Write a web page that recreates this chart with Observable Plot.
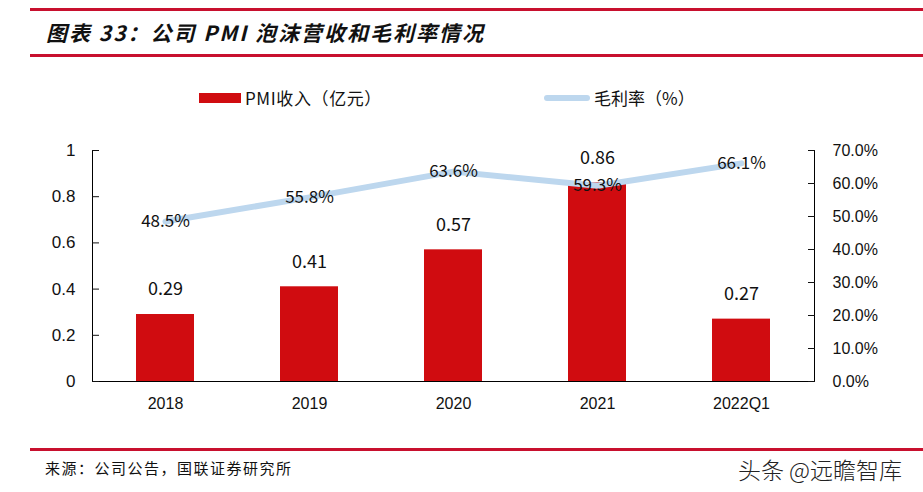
<!DOCTYPE html>
<html><head><meta charset="utf-8">
<script src="https://cdn.jsdelivr.net/npm/d3@7"></script>
<script src="https://cdn.jsdelivr.net/npm/@observablehq/plot@0.6"></script>
<style>
body{margin:0;background:#fff;}
#wrap{position:relative;width:923px;height:492px;overflow:hidden;font-family:"Noto Sans CJK SC",sans-serif;}
.abs{position:absolute;white-space:nowrap;}
.redline{position:absolute;left:30px;right:0;height:3px;background:#c8102e;}
</style></head>
<body><div id="wrap">
<div class="redline" style="top:8px"></div>
<div class="abs" style="left:46px;top:17px;font-size:21px;font-weight:bold;font-style:italic;color:#111;letter-spacing:2px">图表 33：公司 PMI 泡沫营收和毛利率情况</div>
<div class="redline" style="top:54px"></div>
<div class="abs" style="left:199px;top:93px;width:42px;height:10px;background:#d00c10"></div>
<div class="abs" style="left:245px;top:85px;font-size:17px;color:#111;letter-spacing:0.6px">PMI收入（亿元）</div>
<div class="abs" style="left:544px;top:95px;width:46px;height:6px;border-radius:3px;background:#bdd7ee"></div>
<div class="abs" style="left:594px;top:85px;font-size:17px;color:#111">毛利率（%）</div>
<div id="chart" class="abs" style="left:0;top:0"></div>
<div class="redline" style="top:448px"></div>
<div class="abs" style="left:45px;top:457px;font-size:15px;color:#111;letter-spacing:1.5px">来源：公司公告，国联证券研究所</div>
<div class="abs" style="left:738px;top:452px;font-size:23px;color:#222;font-weight:300">头条 @远瞻智库</div>
</div>
<script>
const categories = ["2018","2019","2020","2021","2022Q1"];
const revenue = [0.29, 0.41, 0.57, 0.86, 0.27];
const margin = [48.5, 55.8, 63.6, 59.3, 66.1];
const leftTicks = [0, 0.2, 0.4, 0.6, 0.8, 1];
const rightTickPct = [0, 10, 20, 30, 40, 50, 60, 70];
const rightMax = 70;

const rows = categories.map((c,i)=>({cat:c, rev:revenue[i], gm:margin[i]}));
const fmtL = d => d===0 ? "0" : d===1 ? "1" : d.toFixed(1);

const chart = Plot.plot({
  width: 923, height: 492,
  marginTop: 150, marginBottom: 111, marginLeft: 92, marginRight: 109,
  style: {fontFamily: "Liberation Sans, Arial, sans-serif", background: "transparent"},
  x: {domain: categories, paddingInner: 0.6, paddingOuter: 0.3},
  y: {domain: [0, 1]},
  marks: [
    Plot.barY(rows, {x: "cat", y: "rev", fill: "#d00c10"}),
    Plot.line(rows, {x: "cat", y: d => d.gm / rightMax, stroke: "#bdd7ee", strokeWidth: 6, strokeLinecap: "round", strokeLinejoin: "round"}),
    Plot.text(rows, {x: "cat", y: "rev", text: d => d.rev.toFixed(2), dy: -25, fontSize: 18, fill: "#111", fontFamily: "Noto Sans CJK SC", letterSpacing: "1px"}),
    Plot.text(rows, {x: "cat", y: d => d.gm / rightMax, text: d => d.gm.toFixed(1) + "%", fontSize: 17, fill: "#111", fontFamily: "Noto Sans CJK SC", letterSpacing: "0.5px"}),
    Plot.ruleY([0], {stroke: "#000", strokeWidth: 1}),
    Plot.frame({anchor: "left", stroke: "#000"}),
    Plot.frame({anchor: "right", stroke: "#000"}),
    Plot.axisY(leftTicks, {anchor: "left", tickFormat: fmtL, tickSize: -7, tickPadding: 24, fontSize: 17, color: "#111", label: null}),
    Plot.axisY(rightTickPct.map(p => p / rightMax), {anchor: "right", tickFormat: d => (d * rightMax).toFixed(1) + "%", tickSize: -7, tickPadding: 25, fontSize: 16, color: "#111", label: null}),
    Plot.axisX({tickSize: 0, tickPadding: 16, fontSize: 16, color: "#111", label: null})
  ]
});
document.getElementById("chart").appendChild(chart);
</script>
</body></html>
